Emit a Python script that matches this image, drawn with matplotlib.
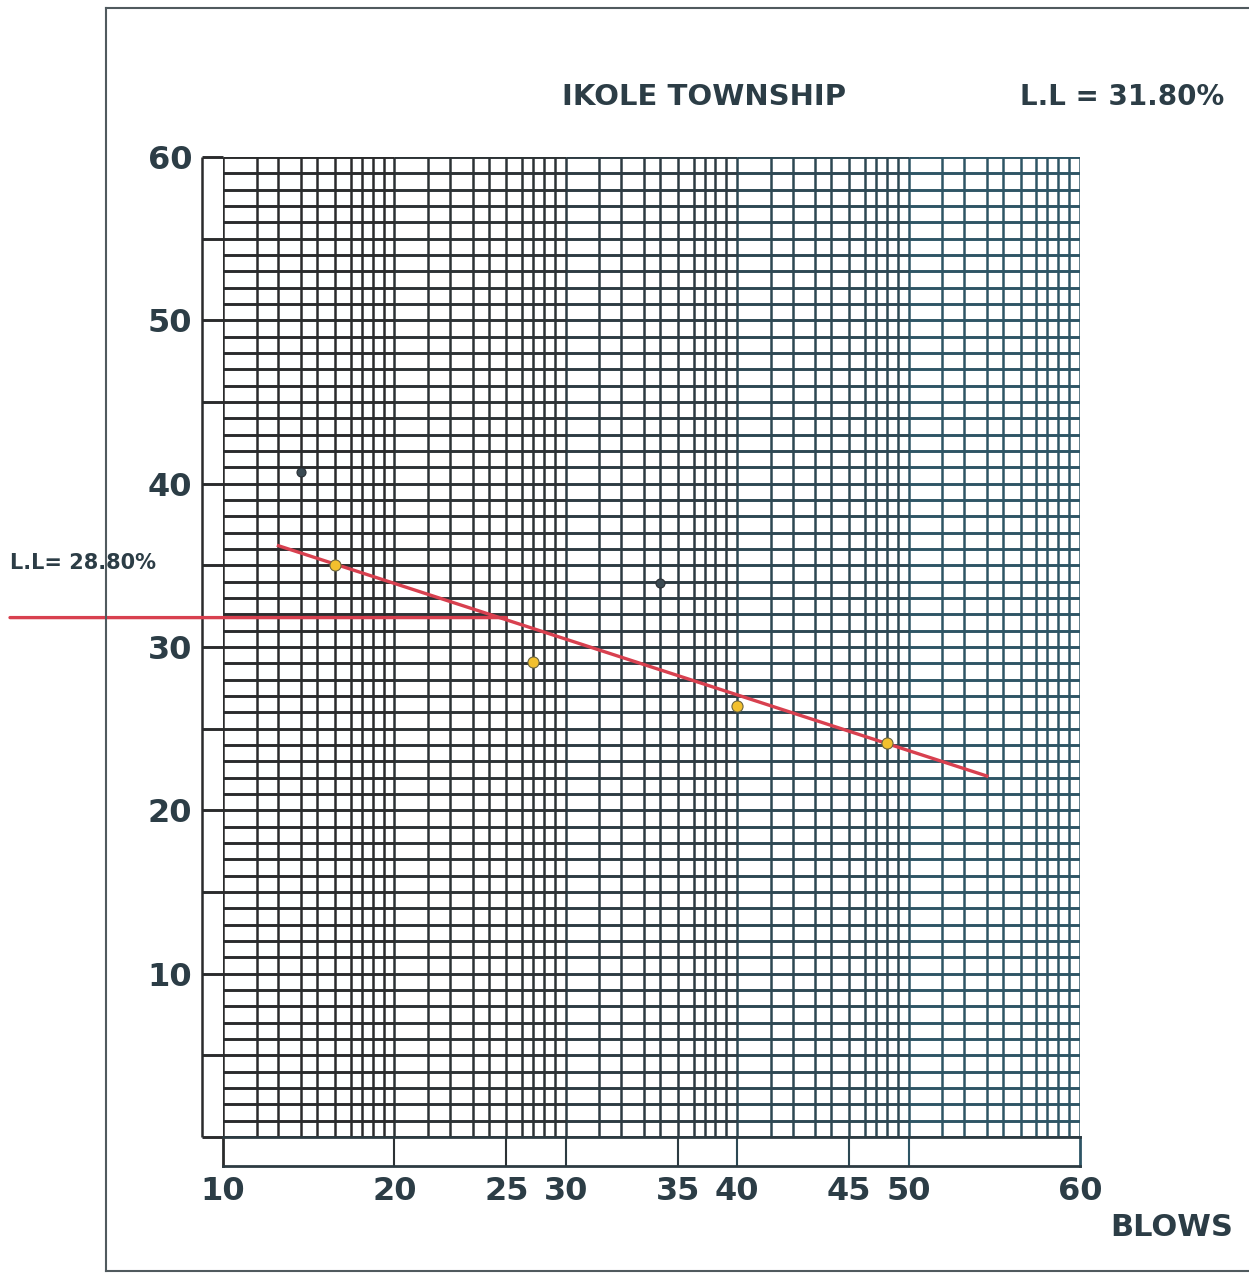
import numpy as np
import matplotlib
matplotlib.use('Agg')
import matplotlib.pyplot as plt
from matplotlib.lines import Line2D

# liquid limit test readings (blows, moisture content %)
blows_a = [15, 27, 40, 48]
moist_a = [35.0, 29.1, 26.4, 24.1]
blows_b = [13, 34]
moist_b = [40.7, 33.9]
fit_blows = [12, 53]
fit_moist = [36.2, 22.1]
ll_blows = 25
ll_value = 31.8

xticks = [10, 20, 25, 30, 35, 40, 45, 50, 60]
yticks = [10, 20, 30, 40, 50, 60]
title = 'IKOLE TOWNSHIP'
ll_text = 'L.L = 31.80%'
ll_left_text = 'L.L= 28.80%'
xlabel = 'BLOWS'

# chart paper: every 10 blows split into 10 unequal cells
cells = np.array([34, 22, 23, 16, 18, 16, 11, 11, 11, 11], float)
cum = np.concatenate([[0], np.cumsum(cells)]) / cells.sum()
knots_b = np.arange(10, 61)
knots_p = np.concatenate([[i + c for c in cum[:-1]] for i in range(5)] + [[5.0]])

def fwd(x):
    return np.interp(x, knots_b, knots_p)

def inv(p):
    return np.interp(p, knots_p, knots_b)

txt = '#2c3d46'
segcol = ['#2a2b2c', '#2c3235', '#2d3b42', '#2d4853', '#2e5565']

W, H = 1249, 1273
fig = plt.figure(figsize=(W / 100, H / 100), dpi=100)
L, R, T, B = 223, 1080, 157, 1137
ax = fig.add_axes([L / W, 1 - B / H, (R - L) / W, (B - T) / H])
ax.set_xscale('function', functions=(fwd, inv))
ax.set_xlim(10, 60)
ax.set_ylim(0, 60)
for s in ax.spines.values():
    s.set_visible(False)

lw = 1.8
# vertical lines
for v in knots_b:
    c = segcol[min((v - 10) // 10, 4)]
    ax.vlines(v, 0, 60, color=c, lw=lw, zorder=1)
# horizontal lines, segment by segment
for i in range(5):
    ax.hlines(np.arange(0, 61), 10 + 10 * i, 20 + 10 * i, color=segcol[i], lw=2.1, zorder=1)
# left strip of the frame
ext = (L - 202) / (R - L)
yt = ax.get_yaxis_transform()
ax.hlines(np.arange(0, 61, 5), -ext, 0, transform=yt, color=segcol[0], lw=2.1, clip_on=False)
ax.vlines(-ext, 0, 60, transform=yt, color=segcol[0], lw=lw, clip_on=False)

ax.set_yticks(yticks)
ax.set_yticklabels([str(t) for t in yticks])
ax.tick_params(axis='y', length=0, pad=22, labelsize=23, labelcolor=txt)
ax.tick_params(axis='x', which='both', length=0, labelbottom=False)
for t in ax.get_yticklabels():
    t.set_fontweight('heavy')

# points and fitted line
ax.plot(fit_blows, fit_moist, color='#d8404f', lw=2.4, zorder=3)
ax.plot(blows_a, moist_a, 'o', ms=8, mfc='#f2c02e', mec='#6a6440', mew=0.8, zorder=4)
ax.plot(blows_b, moist_b, 'o', ms=6.5, mfc='#3b4a52', mec='#2a3035', mew=0.8, zorder=4)
ax.annotate('', xy=(ll_blows, ll_value), xycoords='data',
            xytext=(10 / W, ll_value),
            textcoords=matplotlib.transforms.blended_transform_factory(fig.transFigure, ax.transData),
            arrowprops=dict(arrowstyle='-', color='#d8404f', lw=2.4, shrinkA=0, shrinkB=0),
            annotation_clip=False, zorder=3)

# tick band under the grid
band = fig.add_axes([L / W, 1 - 1166 / H, (R - L) / W, 29 / H], sharex=ax)
band.set_yticks([])
for s in band.spines.values():
    s.set_color(segcol[2])
    s.set_linewidth(2.0)
band.spines['left'].set_color(segcol[0])
band.spines['right'].set_color(segcol[4])
for v in xticks[1:-1]:
    band.axvline(v, color=segcol[min((v - 10) // 10, 4)], lw=1.5)
band.set_xticks(xticks)
band.set_xticklabels([str(t) for t in xticks])
band.tick_params(axis='x', length=0, pad=7, labelsize=23, labelcolor=txt)
for t in band.get_xticklabels():
    t.set_fontweight('heavy')

# texts
fig.text(704 / W, 1 - 97 / H, title, ha='center', va='center', fontsize=21,
         fontweight='heavy', color=txt)
fig.text(1122 / W, 1 - 97 / H, ll_text, ha='center', va='center', fontsize=20,
         fontweight='heavy', color=txt)
fig.text(1172 / W, 1 - 1228 / H, xlabel, ha='center', va='center', fontsize=22,
         fontweight='heavy', color=txt)
fig.text(10 / W, 1 - 563 / H, ll_left_text, ha='left', va='center', fontsize=15,
         fontweight='heavy', color=txt)

# page frame
fx = 106 / W
for xs, ys in [([fx, fx], [0.0016, 1 - 8 / H]), ([fx, 1], [1 - 8 / H, 1 - 8 / H]),
               ([fx, 1], [0.0016, 0.0016])]:
    fig.add_artist(Line2D(xs, ys, color='#505a5e', lw=1.5, transform=fig.transFigure))

fig.savefig('out.png', dpi=100)
